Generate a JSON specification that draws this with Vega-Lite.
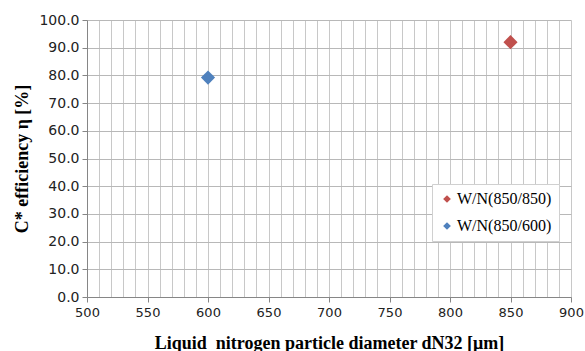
{
  "$schema": "https://vega.github.io/schema/vega-lite/v6.json",
  "width": 484,
  "height": 277,
  "autosize": {"type": "none"},
  "padding": {"left": 87, "top": 20, "right": 14, "bottom": 54},
  "background": "white",
  "config": {"view": {"stroke": null}},
  "data": {
    "values": [
      {"d": 850, "eta": 92.0, "series": "W/N(850/850)"},
      {"d": 600, "eta": 79.2, "series": "W/N(850/600)"}
    ]
  },
  "mark": {"type": "point", "shape": "diamond", "filled": true, "size": 200, "opacity": 1},
  "encoding": {
    "x": {
      "field": "d",
      "type": "quantitative",
      "scale": {"domain": [500, 900], "nice": false, "zero": false},
      "axis": {
        "values": [500,510,520,530,540,550,560,570,580,590,600,610,620,630,640,650,660,670,680,690,700,710,720,730,740,750,760,770,780,790,800,810,820,830,840,850,860,870,880,890,900],
        "labelExpr": "datum.value % 50 === 0 ? datum.label : ''",
        "labelFont": "DejaVu Sans",
        "labelFontSize": 13,
        "labelColor": "#222222",
        "labelPadding": 4,
        "labelOverlap": false,
        "labelFlush": false,
        "tickSize": 5,
        "tickColor": "#868686",
        "tickOpacity": {"condition": {"test": "datum.value % 50 === 0", "value": 1}, "value": 0},
        "domainColor": "#868686",
        "grid": true,
        "gridColor": "#c8c8c8",
        "gridWidth": 1,
        "title": "Liquid\u00a0 nitrogen particle diameter dN32 [μm]",
        "titleFont": "Liberation Serif",
        "titleFontSize": 18,
        "titleFontWeight": "bold",
        "titleColor": "#000000",
        "titlePadding": 15
      }
    },
    "y": {
      "field": "eta",
      "type": "quantitative",
      "scale": {"domain": [0, 100], "nice": false},
      "axis": {
        "values": [0,10,20,30,40,50,60,70,80,90,100],
        "format": ".1f",
        "labelFont": "DejaVu Sans",
        "labelFontSize": 14,
        "labelColor": "#222222",
        "labelPadding": 3,
        "tickSize": 5,
        "tickColor": "#868686",
        "domainColor": "#868686",
        "grid": true,
        "gridColor": "#b8b8b8",
        "title": "C* efficiency η [%]",
        "titleFont": "Liberation Serif",
        "titleFontSize": 18,
        "titleFontWeight": "bold",
        "titleColor": "#000000",
        "titlePadding": 7
      }
    },
    "color": {
      "field": "series",
      "type": "nominal",
      "scale": {"domain": ["W/N(850/850)", "W/N(850/600)"], "range": ["#c0504d", "#4f81bd"]},
      "legend": {
        "title": null,
        "orient": "none",
        "legendX": 345,
        "legendY": 164,
        "fillColor": "white",
        "strokeColor": "#d0d0d0",
        "padding": 7,
        "symbolType": "diamond",
        "symbolSize": 60,
        "symbolOpacity": 1,
        "labelFont": "Liberation Serif",
        "labelFontSize": 16,
        "labelColor": "#000000",
        "labelOffset": 2,
        "rowPadding": 11
      }
    }
  }
}
